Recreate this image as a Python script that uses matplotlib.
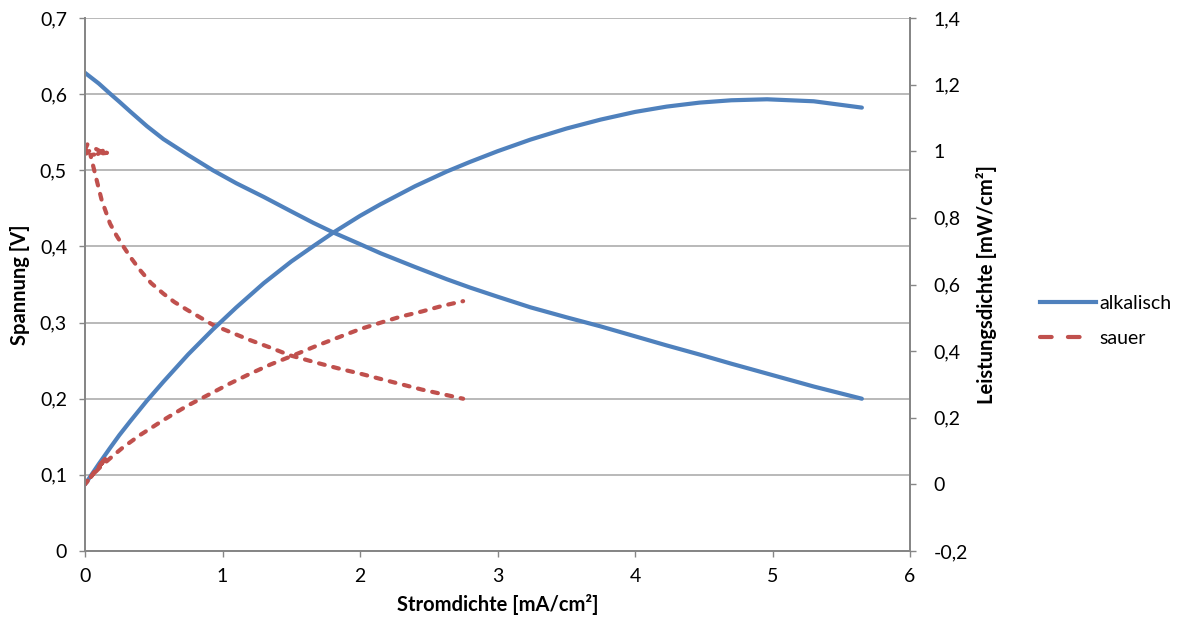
import numpy as np
import matplotlib.pyplot as plt
import matplotlib.ticker as ticker
from matplotlib.lines import Line2D

plt.rcParams['font.family'] = ['Lato', 'DejaVu Sans']

# alkalisch: Stromdichte [mA/cm2], Spannung [V], Leistungsdichte [mW/cm2]
i_alk = [0, 0.1, 0.18, 0.25, 0.33, 0.45, 0.57, 0.75, 0.93, 1.1, 1.3, 1.5, 1.66, 1.81,
         2.0, 2.15, 2.4, 2.63, 2.8, 3.0, 3.24, 3.5, 3.75, 4.0, 4.23, 4.47, 4.7, 4.96,
         5.3, 5.65]
u_alk = [0.628, 0.614, 0.601, 0.590, 0.577, 0.558, 0.541, 0.520, 0.500, 0.483, 0.465,
         0.446, 0.431, 0.418, 0.403, 0.391, 0.373, 0.357, 0.346, 0.334, 0.320, 0.307,
         0.295, 0.282, 0.270, 0.258, 0.246, 0.233, 0.216, 0.200]
p_alk = [0, 0.061, 0.108, 0.148, 0.190, 0.251, 0.308, 0.390, 0.465, 0.531, 0.604,
         0.669, 0.715, 0.757, 0.806, 0.841, 0.895, 0.939, 0.968, 1.000, 1.035, 1.068,
         1.095, 1.118, 1.134, 1.146, 1.153, 1.156, 1.150, 1.131]

# sauer: Anfang mit Rauschen bei kleinen Stromdichten
i_sau = [0.0, 0.02, 0.01, 0.06, 0.12, 0.15, 0.09, 0.16, 0.04, 0.048, 0.085, 0.121,
         0.182, 0.23, 0.279, 0.33, 0.40, 0.48, 0.57, 0.65, 0.74, 0.93, 1.05, 1.2, 1.35,
         1.49, 1.69, 1.86, 2.0, 2.17, 2.3, 2.45, 2.6, 2.75]
u_sau = [0.527, 0.535, 0.522, 0.530, 0.524, 0.528, 0.521, 0.523, 0.520, 0.514, 0.487,
         0.461, 0.430, 0.414, 0.400, 0.386, 0.369, 0.352, 0.338, 0.327, 0.317, 0.297,
         0.288, 0.277, 0.267, 0.257, 0.247, 0.239, 0.233, 0.225, 0.219, 0.212, 0.206, 0.200]
p_sau = [0.0, 0.011, 0.005, 0.032, 0.063, 0.079, 0.047, 0.084, 0.021, 0.025, 0.041,
         0.056, 0.078, 0.095, 0.112, 0.127, 0.148, 0.169, 0.193, 0.213, 0.235, 0.276,
         0.302, 0.332, 0.360, 0.383, 0.417, 0.444, 0.466, 0.488, 0.504, 0.519, 0.536, 0.550]

blau = '#4F81BD'
rot = '#C0504D'
grau = '#868686'

def komma(value, pos):
    return ('%g' % round(value, 2)).replace('.', ',')

fig = plt.figure(figsize=(11.77, 6.22), dpi=100)
ax = fig.add_axes([85/1177, 71/622, 825/1177, 533/622])
ax2 = ax.twinx()

dash = (0, (1.4, 2.1))
ax.plot(i_alk, u_alk, color=blau, lw=3, solid_capstyle='round', solid_joinstyle='round')
ax2.plot(i_alk, p_alk, color=blau, lw=3, solid_capstyle='round', solid_joinstyle='round')
ax.plot(i_sau, u_sau, color=rot, lw=3, linestyle=dash, dash_capstyle='round')
ax2.plot(i_sau, p_sau, color=rot, lw=3, linestyle=dash, dash_capstyle='round')

ax.set_xlim(0, 6)
ax.set_ylim(0, 0.7)
ax2.set_ylim(-0.2, 1.4)
ax.xaxis.set_major_locator(ticker.MultipleLocator(1))
ax.yaxis.set_major_locator(ticker.MultipleLocator(0.1))
ax2.yaxis.set_major_locator(ticker.MultipleLocator(0.2))
ax.yaxis.set_major_formatter(ticker.FuncFormatter(komma))
ax2.yaxis.set_major_formatter(ticker.FuncFormatter(komma))

ax.grid(axis='y', color='#A6A6A6', lw=1.1)
ax.set_axisbelow(True)
for a in (ax, ax2):
    a.spines['top'].set_visible(False)
    for s in ('left', 'right', 'bottom'):
        a.spines[s].set_color(grau)
        a.spines[s].set_linewidth(1.3)
ax.tick_params(axis='both', colors=grau, labelcolor='black', labelsize=14, length=4, width=1)
ax.tick_params(axis='y', pad=9)
ax.tick_params(axis='x', pad=8)
ax2.tick_params(axis='y', colors=grau, labelcolor='black', labelsize=14, length=4, width=1, pad=13)

ax.set_xlabel('Stromdichte [mA/cm²]', fontsize=14.5, fontweight='bold', labelpad=7)
ax.set_ylabel('Spannung [V]', fontsize=14.5, fontweight='bold', labelpad=7)
ax2.set_ylabel('Leistungsdichte [mW/cm²]', fontsize=14.5, fontweight='bold', labelpad=6)

# Legende: ein Eintrag je Elektrolyt
h_alk = Line2D([], [], color=blau, lw=3)
h_sau = Line2D([], [], color=rot, lw=3, linestyle=(0, (2.8, 3.9, 2.8, 20)),
               dash_capstyle='round')
fig.legend(handles=[h_alk, h_sau], labels=['alkalisch', 'sauer'], loc='center left',
           bbox_to_anchor=(1022/1177, 1 - 321/622), frameon=False, fontsize=14,
           handlelength=2.9, labelspacing=0.95, handletextpad=0.2)

plt.savefig('out.png', dpi=100)
